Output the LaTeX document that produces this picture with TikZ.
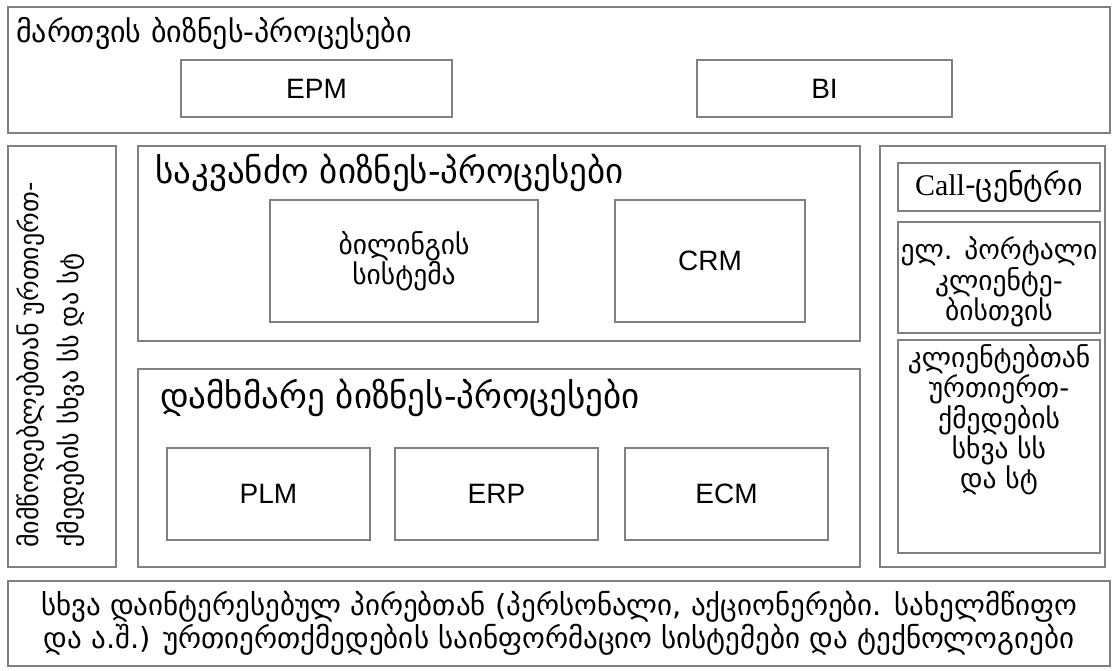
\documentclass[tikz,border=0pt]{standalone}
\usepackage{fontspec}
\setmainfont{DejaVu Sans}
\newfontfamily\arialfont{Liberation Sans}
\newfontfamily\timesfont{Liberation Serif}

\tikzset{
	box/.style={draw=black!50, line width=1.4pt, inner sep=0pt},
	title/.style={anchor=west, inner sep=0pt, font=\fontsize{30}{36}\selectfont},
	bigtitle/.style={title, font=\fontsize{35}{40}\selectfont},
	sysbox/.style={box, font=\arialfont\fontsize{28}{32}\selectfont},
	geotext/.style={align=center, inner sep=0pt, font=\fontsize{27.5}{28}\selectfont},
}

\begin{document}
\begin{tikzpicture}[x=1pt, y=-1pt]
			%%%%% START %%%%%
			\useasboundingbox (0, 0) rectangle (1113, 670);
			
			% management level
			\node[box, minimum width=1102, minimum height=126] (mgmt) at (559, 70) {};
			\node[title] (mgmttitle) at (16, 33) {მართვის ბიზნეს-პროცესები};
			\node[sysbox, minimum width=271, minimum height=57] (epm) at (316.5, 88.5) {EPM};
			\node[sysbox, minimum width=255, minimum height=57] (bi) at (824.5, 88.5) {BI};
			
			% suppliers
			\node[box, minimum width=108, minimum height=421] (supl) at (62, 356.5) {};
			\node[rotate=90, anchor=north west, align=left, inner sep=0pt,
				font=\fontsize{26}{40}\selectfont] (supltext) at (17, 548)
				{მიმწოდებლებთან ურთიერთ-\\ქმედების სხვა სს და სტ};
			
			% core processes
			\node[box, minimum width=722, minimum height=195] (core) at (499, 243.5) {};
			\node[bigtitle] (coretitle) at (155, 173) {საკვანძო ბიზნეს-პროცესები};
			\node[box, minimum width=268, minimum height=122] (billing) at (404, 261) {};
			\node[geotext, font=\fontsize{27.5}{30}\selectfont] (billingtext) at (billing) {ბილინგის\\სისტემა};
			\node[sysbox, minimum width=190, minimum height=122] (crm) at (710, 261) {CRM};
			
			% supporting processes
			\node[box, minimum width=722, minimum height=198] (supp) at (499, 468) {};
			\node[bigtitle] (supptitle) at (160, 398) {დამხმარე ბიზნეს-პროცესები};
			\node[sysbox, minimum width=203, minimum height=92] (plm) at (268.5, 494) {PLM};
			\node[sysbox, minimum width=203, minimum height=92] (erp) at (496.5, 494) {ERP};
			\node[sysbox, minimum width=203, minimum height=92] (ecm) at (726.5, 494) {ECM};
			
			% customer channels
			\node[box, minimum width=225, minimum height=421] (chan) at (992.5, 356.5) {};
			\node[box, minimum width=202, minimum height=48] (call) at (999, 187) {};
			\node[geotext, font=\fontsize{30}{32}\selectfont] (calltext) at (call) {{\timesfont Call}-ცენტრი};
			\node[box, minimum width=202, minimum height=111] (portal) at (999, 277.5) {};
			\node[geotext] (portaltext) at (999, 282) {ელ. პორტალი\\კლიენტე-\\ბისთვის};
			\node[box, minimum width=202, minimum height=213] (other) at (999, 446.5) {};
			\node[geotext] (othertext) at (999, 420) {კლიენტებთან\\ურთიერთ-\\ქმედების\\სხვა სს\\და სტ};
			
			% stakeholders
			\node[box, minimum width=1102, minimum height=85] (stake) at (559, 623.5) {};
			\node[geotext, font=\fontsize{29}{33}\selectfont] (staketext) at (stake)
				{სხვა დაინტერესებულ პირებთან (პერსონალი, აქციონერები. სახელმწიფო\\და ა.შ.) ურთიერთქმედების საინფორმაციო სისტემები და ტექნოლოგიები};
			
			%%%%% END %%%%%
\end{tikzpicture}
\end{document}
